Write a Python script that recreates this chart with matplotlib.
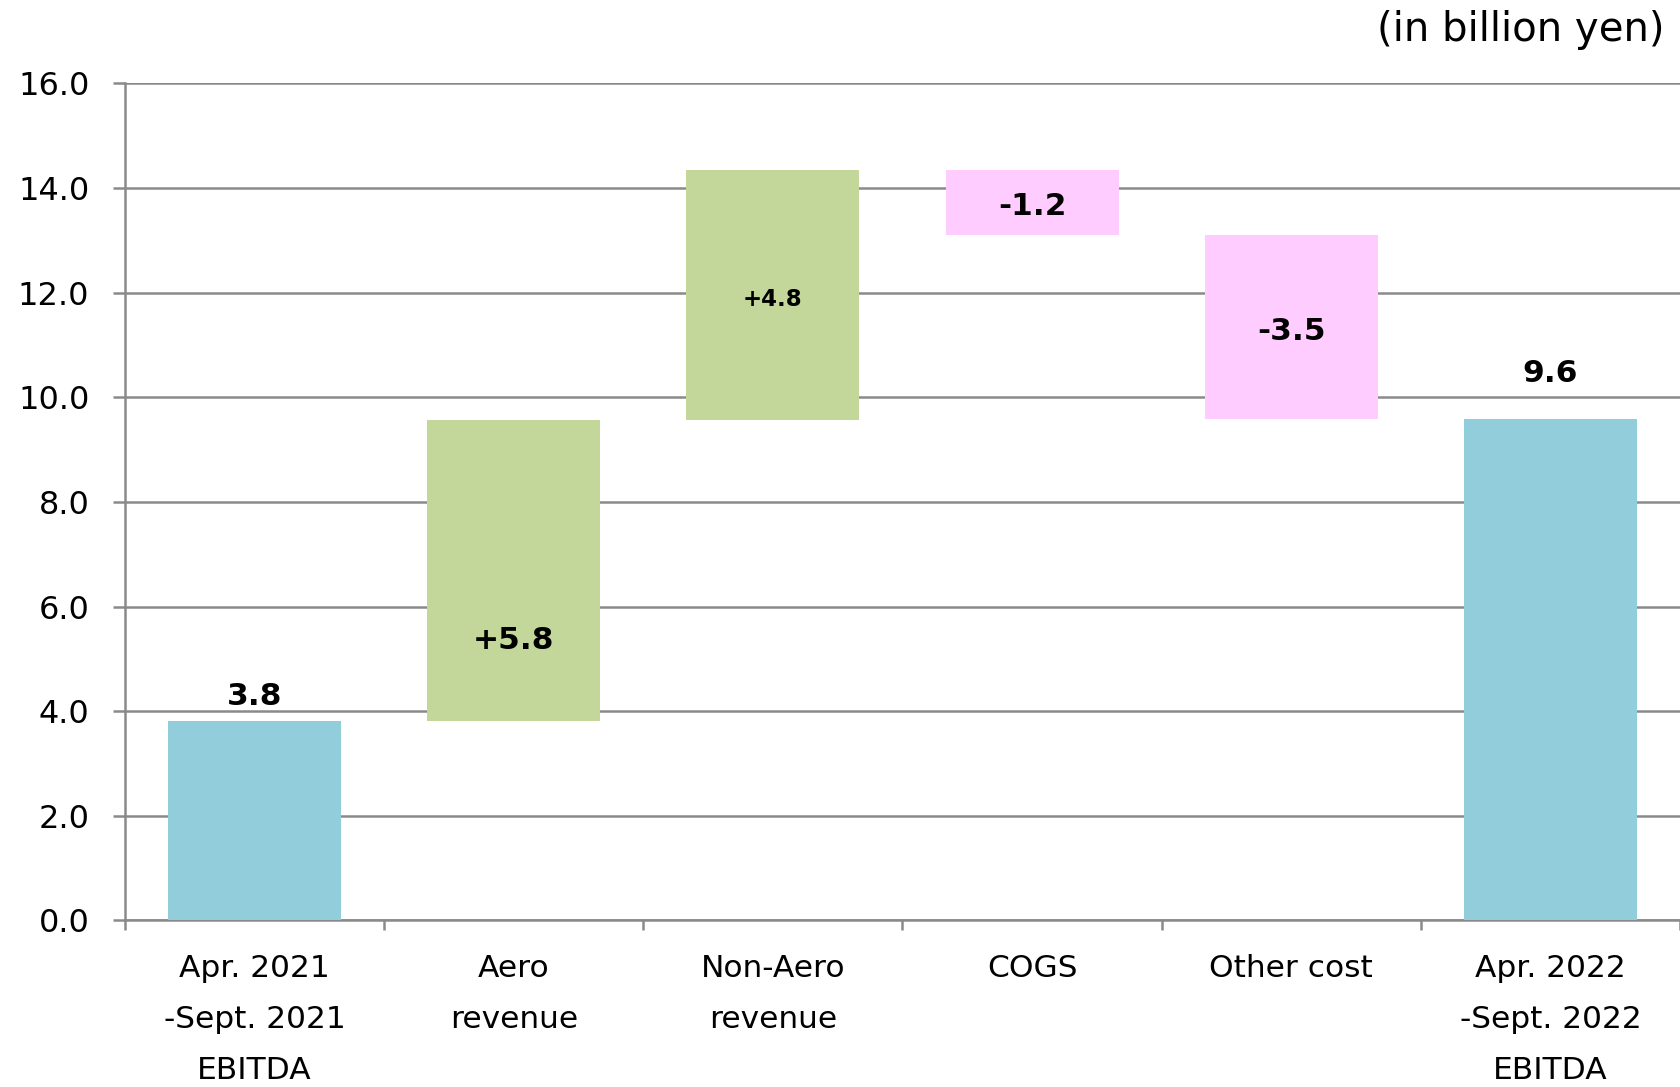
import matplotlib
matplotlib.use("Agg")
import matplotlib.pyplot as plt
import numpy as np

# waterfall: start, changes, end (in billion yen)
categories = ["Apr. 2021\n-Sept. 2021\nEBITDA", "Aero\nrevenue", "Non-Aero\nrevenue",
              "COGS", "Other cost", "Apr. 2022\n-Sept. 2022\nEBITDA"]
values = [3.81, 5.76, 4.78, -1.25, -3.51, 9.59]
labels = ["3.8", "+5.8", "+4.8", "-1.2", "-3.5", "9.6"]
kinds = ["total", "up", "up", "down", "down", "total"]

COLORS = {"total": "#92cddc", "up": "#c4d79b", "down": "#ffccff"}
GRID = "#8a8a8a"

fig = plt.figure(figsize=(16.8, 10.87), dpi=100)
ax = fig.add_axes([0.0744, 0.1532, 0.9256, 0.77])

x = np.arange(len(categories))
bottoms, heights = [], []
running = 0.0
for v, k in zip(values, kinds):
    if k == "total":
        bottoms.append(0.0); heights.append(v); running = v
    else:
        bottoms.append(running if v > 0 else running + v)
        heights.append(abs(v)); running += v

ax.bar(x, heights, bottom=bottoms, width=0.667,
       color=[COLORS[k] for k in kinds], zorder=3)

# value labels
for i, (b, h, lab, k) in enumerate(zip(bottoms, heights, labels, kinds)):
    size = 16.5 if i == 2 else 22.5
    if k == "total":
        off = 0.47 if i == 0 else 0.87
        ax.text(i, b + h + off, lab, ha="center", va="center",
                fontsize=size, fontweight="bold", zorder=4)
    else:
        y = b + h / 2
        if i == 1:
            y -= 1.25
        ax.text(i, y - 0.08, lab, ha="center", va="center",
                fontsize=size, fontweight="bold", zorder=4)

ax.set_xlim(-0.5, len(categories) - 0.5)
ax.set_ylim(0, 16)
ax.set_yticks(np.arange(0, 16.1, 2))
ax.set_yticklabels([f"{t:.1f}" for t in np.arange(0, 16.1, 2)])
ax.yaxis.grid(True, color=GRID, linewidth=1.8, zorder=0)

ax.set_xticks(x)
ax.set_xticklabels(categories, linespacing=1.95)
ax.set_xticks(np.arange(-0.5, len(categories), 1), minor=True)
ax.tick_params(axis="x", which="major", length=0, pad=24, labelsize=22.5)
ax.tick_params(axis="x", which="minor", length=7, width=1.8, color=GRID)
ax.tick_params(axis="y", length=8.6, width=1.8, color=GRID, pad=17, labelsize=23)

for s in ["top", "right"]:
    ax.spines[s].set_visible(False)
for s in ["left", "bottom"]:
    ax.spines[s].set_color(GRID)
    ax.spines[s].set_linewidth(1.8)

fig.text(0.9905, 0.972, "(in billion yen)", ha="right", va="center", fontsize=29)

fig.savefig("out.png", dpi=100, facecolor="white")
